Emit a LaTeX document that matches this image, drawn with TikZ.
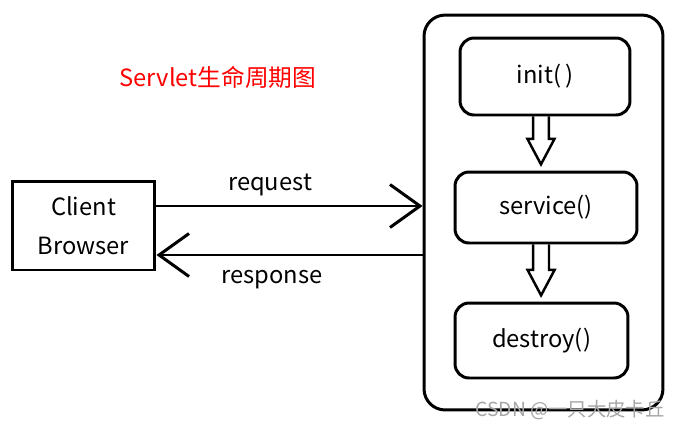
\documentclass[tikz,border=0pt]{standalone}
\usepackage{fontspec}
\setmainfont{Noto Sans CJK SC}
\usetikzlibrary{arrows.meta,calc}
\tikzset{
  box/.style={draw, line width=1.7pt, rounded corners=8pt, font=\fontsize{13.5pt}{16pt}\selectfont},
  conn/.style={line width=1.7pt, -{Straight Barb[length=0.6cm,width=0.86cm,line width=1.7pt]}},
  fat/.style={draw, line width=1.4pt, line join=miter}
}
% hollow arrow: from node, to node, x offset
\newcommand{\fatarrow}[3]{%
  \draw[fat] let \p1=(#1.south), \p2=(#2.north) in
    (\x1+#3-4.5pt,\y1) -- (\x1+#3-4.5pt,\y2+18pt) -- (\x1+#3-7.7pt,\y2+18pt) -- (\x1+#3,\y2+3.5pt)
    -- (\x1+#3+7.7pt,\y2+18pt) -- (\x1+#3+4.5pt,\y2+18pt) -- (\x1+#3+4.5pt,\y1);}
\begin{document}
\begin{tikzpicture}[x=0.02cm,y=-0.02cm]
\useasboundingbox (0,0) rectangle (683,430);
    \node[box, rounded corners=12pt, minimum width=4.78cm, minimum height=7.9cm] (server) at (543.5,212.5) {};
    \node[box, minimum width=3.4cm, minimum height=1.54cm] (init) at (545,76.5) {init(\,)};
    \node[box, minimum width=3.64cm, minimum height=1.42cm] (service) at (546,207.5) {service()};
    \node[box, minimum width=3.46cm, minimum height=1.5cm] (destroy) at (541.5,340.5) {destroy()};
    \node[box, rounded corners=0pt, minimum width=2.86cm, minimum height=1.78cm, align=center, font=\fontsize{13.5pt}{22.5pt}\selectfont] (client) at (83.5,225.5) {Client\\Browser};
    \fatarrow{init}{service}{-2.3pt}
    \fatarrow{service}{destroy}{-2.8pt}
    % request / response
    \coordinate (rq) at (0,206);
    \coordinate (rs) at (0,255);
    \draw[conn] (client.east |- rq) -- (server.west |- rq);
    \draw[conn] (server.west |- rs) -- (client.east |- rs);
    \node[font=\fontsize{13.5pt}{16pt}\selectfont] (reqlabel) at (270,185) {request};
    \node[font=\fontsize{13.5pt}{16pt}\selectfont] (reslabel) at (272,280) {response};
    \node[text=red, font=\fontsize{13.5pt}{16pt}\selectfont] (title) at (218,77) {Servlet生命周期图};
    \node[text=black!35, font=\fontsize{11pt}{13pt}\selectfont] (mark) at (570,410) {CSDN @一只大皮卡丘};
\end{tikzpicture}
\end{document}
